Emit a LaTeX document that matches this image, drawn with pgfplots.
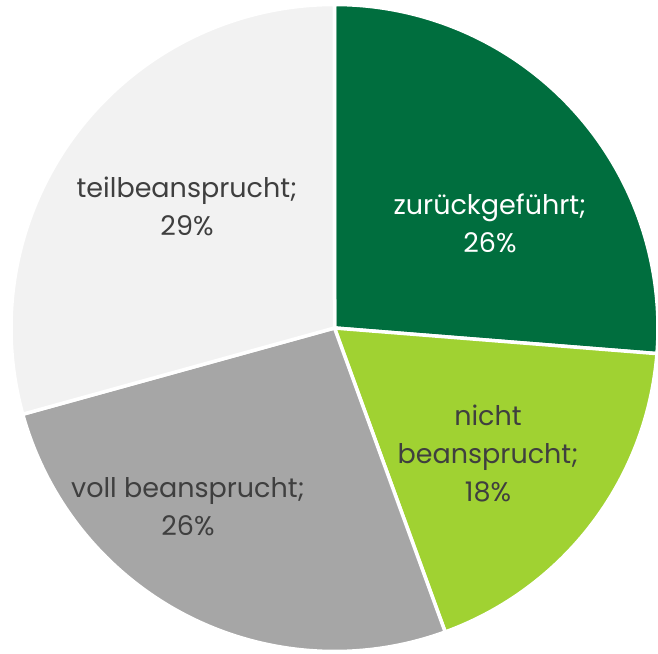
\documentclass[border=0pt]{standalone}
\usepackage{pgfplots}
\usepackage{pgfplotstable}
\pgfplotsset{compat=1.18}
\usepackage{fontspec}
\setmainfont{Poppins}
\definecolor{zgreen}{HTML}{006E3E}
\definecolor{lgreen}{HTML}{A0D232}
\definecolor{mgray}{HTML}{A6A6A6}
\definecolor{lgray}{HTML}{F2F2F2}
\definecolor{txtgray}{HTML}{3F3F3F}
\pgfplotstableread{
label value col
zurueck 26 zgreen
nicht 18 lgreen
voll 26 mgray
teil 29 lgray
}\piedata
\begin{document}
\begin{tikzpicture}
\begin{axis}[
  scale only axis, width=658pt, height=653pt,
  xmin=0, xmax=658, ymin=0, ymax=653,
  hide axis, clip=false,
]
\pgfplotstablegetrowsof{\piedata}
\pgfmathtruncatemacro\N{\pgfplotsretval-1}
\def\total{0}
\pgfplotsforeachungrouped \i in {0,...,\N}{%
  \pgfplotstablegetelem{\i}{value}\of\piedata
  \pgfmathsetmacro\total{\total+\pgfplotsretval}%
}
\def\startangle{90}
\pgfplotsforeachungrouped \i in {0,...,\N}{%
  \pgfplotstablegetelem{\i}{value}\of\piedata \let\v\pgfplotsretval
  \pgfplotstablegetelem{\i}{col}\of\piedata \let\c\pgfplotsretval
  \pgfmathsetmacro\endangle{\startangle-\v/\total*360}%
  \edef\temp{\noexpand\fill[\c, draw=white, line width=3.5pt, line join=round] (axis cs:334.5,325) -- ++(\startangle:323.5pt) arc[start angle=\startangle, end angle=\endangle, radius=323.5pt] -- cycle;}%
  \temp
  \global\let\startangle\endangle
}
\tikzset{lab/.style={align=center, font=\fontsize{27}{38}\selectfont, txtgray}}
\node[lab, white] at (axis cs:490,430) {zurückgeführt;\\26\%};
\node[lab] at (axis cs:187,447) {teilbeansprucht;\\29\%};
\node[lab] at (axis cs:488,200) {nicht\\beansprucht;\\18\%};
\node[lab] at (axis cs:188,146) {voll beansprucht;\\26\%};
\end{axis}
\pgfresetboundingbox
\path (0,0) rectangle (658pt,653pt);
\end{tikzpicture}
\end{document}
